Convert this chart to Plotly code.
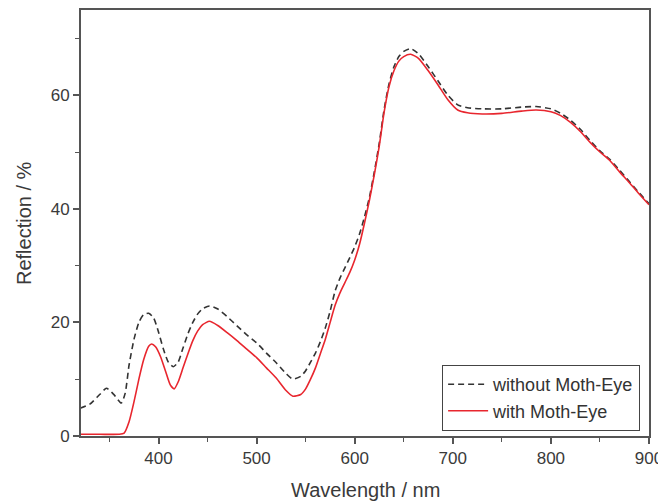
import plotly.graph_objects as go

# Wavelength grid (nm) and reflection (%)
wl_without = [320, 330, 340, 347, 355, 362, 366, 370, 375, 380, 385, 390, 395, 400, 405, 410, 415, 420, 425, 430, 435, 440, 445, 452,
              460, 470, 480, 490, 500, 510, 520, 530, 537, 545, 550, 555, 560, 565, 570, 575, 580, 585, 590, 595, 600, 605, 610,
              615, 620, 625, 630, 635, 640, 645, 650, 657, 665, 675, 685, 695, 705, 715, 730, 750, 770, 785, 800, 810, 820, 830,
              840, 850, 860, 870, 880, 890, 900]
refl_without = [4.9, 5.6, 7.3, 8.4, 7.2, 5.8, 7.5, 12.5, 17.0, 20.0, 21.4, 21.6, 20.8, 18.3, 15.3, 13.0, 12.2, 13.0, 15.5, 18.0, 20.0, 21.5, 22.4, 22.9,
                22.4, 21.0, 19.4, 17.8, 16.4, 14.6, 12.9, 11.0, 10.0, 10.5, 11.5, 13.0, 14.6, 16.6, 19.0, 22.0, 25.5, 27.8, 29.6, 31.4, 33.3, 35.6, 38.6,
                42.0, 46.5, 51.5, 57.5, 62.0, 65.0, 66.8, 67.7, 68.2, 67.3, 65.0, 62.5, 60.0, 58.3, 57.8, 57.6, 57.6, 57.9, 58.0, 57.6, 56.8, 55.6, 54.0,
                52.0, 50.2, 48.7, 46.8, 44.8, 42.8, 40.9]

wl_with = [320, 340, 360, 365, 370, 375, 380, 385, 390, 393, 397, 402, 407, 412, 416, 420, 425, 430, 435, 440, 445, 452,
           460, 470, 480, 490, 500, 510, 520, 530, 537, 545, 550, 555, 560, 565, 570, 575, 580, 585, 590, 595, 600, 605, 610,
           615, 620, 625, 630, 635, 640, 645, 650, 657, 665, 675, 685, 695, 705, 715, 730, 750, 770, 785, 800, 810, 820, 830,
           840, 850, 860, 870, 880, 890, 900]
refl_with = [0.3, 0.3, 0.3, 0.5, 2.5, 6.0, 10.0, 13.5, 15.8, 16.2, 15.7, 14.0, 11.5, 9.0, 8.3, 9.5, 12.0, 14.5, 16.8, 18.5, 19.6, 20.2,
             19.5, 18.2, 16.8, 15.3, 13.8, 12.0, 10.2, 8.0, 7.0, 7.3, 8.3, 10.0, 12.0, 14.5, 17.0, 20.0, 23.0, 25.2, 27.0, 28.8, 31.0, 33.8, 37.5,
             41.5, 46.0, 51.0, 57.0, 61.5, 64.3, 66.0, 66.8, 67.2, 66.5, 64.3, 61.8, 59.2, 57.4, 56.9, 56.7, 56.8, 57.2, 57.4, 57.1, 56.4, 55.2, 53.6,
             51.7, 50.0, 48.5, 46.5, 44.6, 42.6, 40.7]

x_ticks = [400, 500, 600, 700, 800, 900]
y_ticks = [0, 20, 40, 60]
x_title = "Wavelength / nm"
y_title = "Reflection / %"

font_family = "Liberation Sans, Arial, sans-serif"
axis_color = "#555555"
text_color = "#3a3a3a"

fig = go.Figure()
fig.add_trace(go.Scatter(
    x=wl_without, y=refl_without, mode="lines", name="without Moth-Eye",
    line=dict(color="#333333", width=1.6, dash="6px,4px", shape="spline", smoothing=0.6),
))
fig.add_trace(go.Scatter(
    x=wl_with, y=refl_with, mode="lines", name="with Moth-Eye",
    line=dict(color="#e8262e", width=1.6, shape="spline", smoothing=0.6),
))

# The page body adds an 8 px offset, so the figure is 8 px smaller and margins are shifted.
fig.update_layout(
    width=658, height=496,
    margin=dict(l=73, r=17, t=2, b=68, autoexpand=False),
    paper_bgcolor="white", plot_bgcolor="white",
    font=dict(family=font_family, size=17, color=text_color),
    showlegend=True,
    legend=dict(
        x=0.984, y=0.012, xanchor="right", yanchor="bottom",
        bgcolor="white", bordercolor="#444444", borderwidth=1.2,
        font=dict(size=18, color="#333333"),
        tracegroupgap=0, itemwidth=40,
    ),
    annotations=[
        dict(text=x_title, xref="paper", yref="paper", x=0.5, y=0, yshift=-54,
             xanchor="center", yanchor="middle", showarrow=False,
             font=dict(size=20, color=text_color)),
        dict(text=y_title, xref="paper", yref="paper", x=0, y=0.5, xshift=-57,
             xanchor="center", yanchor="middle", showarrow=False, textangle=-90,
             font=dict(size=20, color=text_color)),
    ],
)

fig.update_xaxes(
    range=[321, 900], tickvals=x_ticks, ticktext=[str(v) for v in x_ticks],
    ticks="outside", ticklen=6, tickwidth=1.5, tickcolor=axis_color,
    minor=dict(dtick=50, tick0=350, ticks="outside", ticklen=4, tickcolor=axis_color, tickwidth=1.2),
    showline=True, linecolor=axis_color, linewidth=2, mirror=True,
    showgrid=False, zeroline=False, automargin=False,
    tickfont=dict(size=17, color=text_color),
)
fig.update_yaxes(
    range=[0, 75], tickvals=y_ticks, ticktext=[str(v) for v in y_ticks],
    ticks="outside", ticklen=6, tickwidth=1.5, tickcolor=axis_color,
    minor=dict(dtick=10, tick0=10, ticks="outside", ticklen=4, tickcolor=axis_color, tickwidth=1.2),
    showline=True, linecolor=axis_color, linewidth=2, mirror=True,
    showgrid=False, zeroline=False, automargin=False,
    tickfont=dict(size=17, color=text_color),
)

fig.write_html("out.html")
